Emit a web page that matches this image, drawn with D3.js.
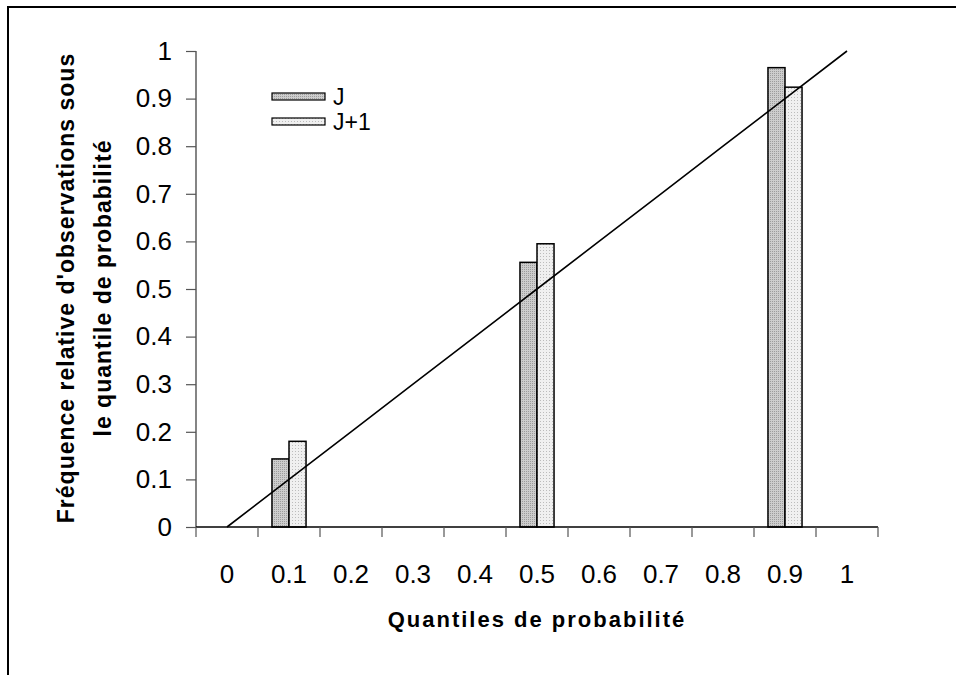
<!DOCTYPE html>
<html>
<head>
<meta charset="utf-8">
<script src="https://cdn.jsdelivr.net/npm/d3@7"></script>
<style>
  body { margin: 0; background: #fff; }
  svg { display: block; font-family: Arial, "Liberation Sans", sans-serif; }
</style>
</head>
<body>
<svg id="chart" width="956" height="675"></svg>
<script>
// quantile categories along the x axis
var categories = ["0", "0.1", "0.2", "0.3", "0.4", "0.5", "0.6", "0.7", "0.8", "0.9", "1"];
// observed relative frequency, day J and day J+1
var valuesJ  = [null, 0.143, null, null, null, 0.556, null, null, null, 0.965, null];
var valuesJ1 = [null, 0.180, null, null, null, 0.595, null, null, null, 0.924, null];
// perfect reliability line
var diagonal = [0, 0.1, 0.2, 0.3, 0.4, 0.5, 0.6, 0.7, 0.8, 0.9, 1];
var seriesNames = ["J", "J+1"];
var yTicks = [0, 0.1, 0.2, 0.3, 0.4, 0.5, 0.6, 0.7, 0.8, 0.9, 1];

var svg = d3.select("#chart");

var plotLeft = 196, plotRight = 878, plotTop = 51, plotBottom = 527;

var x = d3.scaleBand().domain(categories).range([plotLeft, plotRight]).padding(0);
var x1 = d3.scaleBand().domain(seriesNames).range([0, x.bandwidth()])
    .paddingInner(0).paddingOuter(0.82);
var y = d3.scaleLinear().domain([0, 1]).range([plotBottom, plotTop]);

// fill patterns
var defs = svg.append("defs");
var pj = defs.append("pattern").attr("id", "patJ")
    .attr("patternUnits", "userSpaceOnUse").attr("width", 2).attr("height", 2);
pj.append("rect").attr("width", 2).attr("height", 2).attr("fill", "#cdcdcd");
pj.append("rect").attr("x", 0).attr("y", 1).attr("width", 1).attr("height", 1).attr("fill", "#9c9c9c");

var pj1 = defs.append("pattern").attr("id", "patJ1")
    .attr("patternUnits", "userSpaceOnUse").attr("width", 3).attr("height", 3);
pj1.append("rect").attr("width", 3).attr("height", 3).attr("fill", "#f0f0f0");
pj1.append("rect").attr("x", 1).attr("y", 1).attr("width", 1).attr("height", 1).attr("fill", "#bcbcbc");

var fills = { "J": "url(#patJ)", "J+1": "url(#patJ1)" };

// outer chart border (runs past the picture on right and bottom)
svg.append("rect")
    .attr("x", 8).attr("y", 7).attr("width", 980).attr("height", 720)
    .attr("fill", "none").attr("stroke", "#000").attr("stroke-width", 2);

// bars
var rows = categories.map(function(c, i) {
  return { cat: c, vals: [ { s: "J", v: valuesJ[i] }, { s: "J+1", v: valuesJ1[i] } ] };
});

var groups = svg.append("g").selectAll("g")
  .data(rows)
  .enter().append("g")
  .attr("transform", function(d) { return "translate(" + x(d.cat) + ",0)"; });

groups.selectAll("rect")
  .data(function(d) { return d.vals.filter(function(e) { return e.v != null; }); })
  .enter().append("rect")
  .attr("x", function(d) { return x1(d.s); })
  .attr("y", function(d) { return y(d.v); })
  .attr("width", x1.bandwidth())
  .attr("height", function(d) { return y(0) - y(d.v); })
  .attr("fill", function(d) { return fills[d.s]; })
  .attr("stroke", "#000")
  .attr("stroke-width", 1.5);

// axes
var yAxis = d3.axisLeft(y).tickValues(yTicks).tickSize(10).tickPadding(14)
    .tickFormat(function(d) { return d3.format("")(+d.toFixed(1)); });
var gy = svg.append("g").attr("transform", "translate(" + plotLeft + ",0)").call(yAxis);
gy.select(".domain").attr("stroke", "#333").attr("stroke-width", 1.2)
    .attr("d", "M0," + y(1) + "V" + y(0));
gy.selectAll(".tick line").attr("stroke", "#555").attr("stroke-width", 1.2);
gy.selectAll(".tick text").attr("font-size", 26).attr("fill", "#000")
    .attr("font-family", "Arial, 'Liberation Sans', sans-serif");

var xAxis = d3.axisBottom(x).tickSize(0).tickPadding(0);
var gx = svg.append("g").attr("transform", "translate(0," + plotBottom + ")").call(xAxis);
gx.select(".domain").attr("stroke", "#000").attr("stroke-width", 1.5)
    .attr("d", "M" + plotLeft + ",0H" + plotRight);
gx.selectAll(".tick text").attr("font-size", 26).attr("fill", "#000")
    .attr("dy", 0).attr("y", 56)
    .attr("font-family", "Arial, 'Liberation Sans', sans-serif");

// x ticks sit on the category boundaries
svg.append("g").selectAll("line")
  .data(categories.concat(["end"]))
  .enter().append("line")
  .attr("x1", function(d, i) { return plotLeft + i * x.step(); })
  .attr("x2", function(d, i) { return plotLeft + i * x.step(); })
  .attr("y1", plotBottom).attr("y2", plotBottom + 10)
  .attr("stroke", "#555").attr("stroke-width", 1.2);

// diagonal line through category centres
var line = d3.line()
  .x(function(d, i) { return x(categories[i]) + x.bandwidth() / 2; })
  .y(function(d) { return y(d); });
svg.append("path")
  .datum(diagonal)
  .attr("d", line)
  .attr("fill", "none")
  .attr("stroke", "#000")
  .attr("stroke-width", 1.6);

// legend
var legend = svg.append("g").attr("transform", "translate(272,93)");
seriesNames.forEach(function(s, i) {
  legend.append("rect")
    .attr("x", 0).attr("y", i * 25).attr("width", 53).attr("height", 7)
    .attr("fill", fills[s]).attr("stroke", "#000").attr("stroke-width", 1.2);
  legend.append("text")
    .attr("x", 61).attr("y", i * 25 + 12)
    .attr("font-size", 23).text(s);
});

// axis titles
svg.append("text")
  .attr("x", (plotLeft + plotRight) / 2).attr("y", 627)
  .attr("text-anchor", "middle")
  .attr("font-size", 22).attr("font-weight", "bold")
  .attr("letter-spacing", 2)
  .text("Quantiles de probabilité");

var yt = svg.append("text")
  .attr("transform", "translate(74,288) rotate(-90)")
  .attr("text-anchor", "middle")
  .attr("font-size", 23).attr("font-weight", "bold")
  .attr("letter-spacing", 1);
yt.append("tspan").attr("x", 0).attr("y", 0).text("Fréquence relative d'observations sous");
yt.append("tspan").attr("x", 0).attr("y", 37).text("le quantile de probabilité");
</script>
</body>
</html>
